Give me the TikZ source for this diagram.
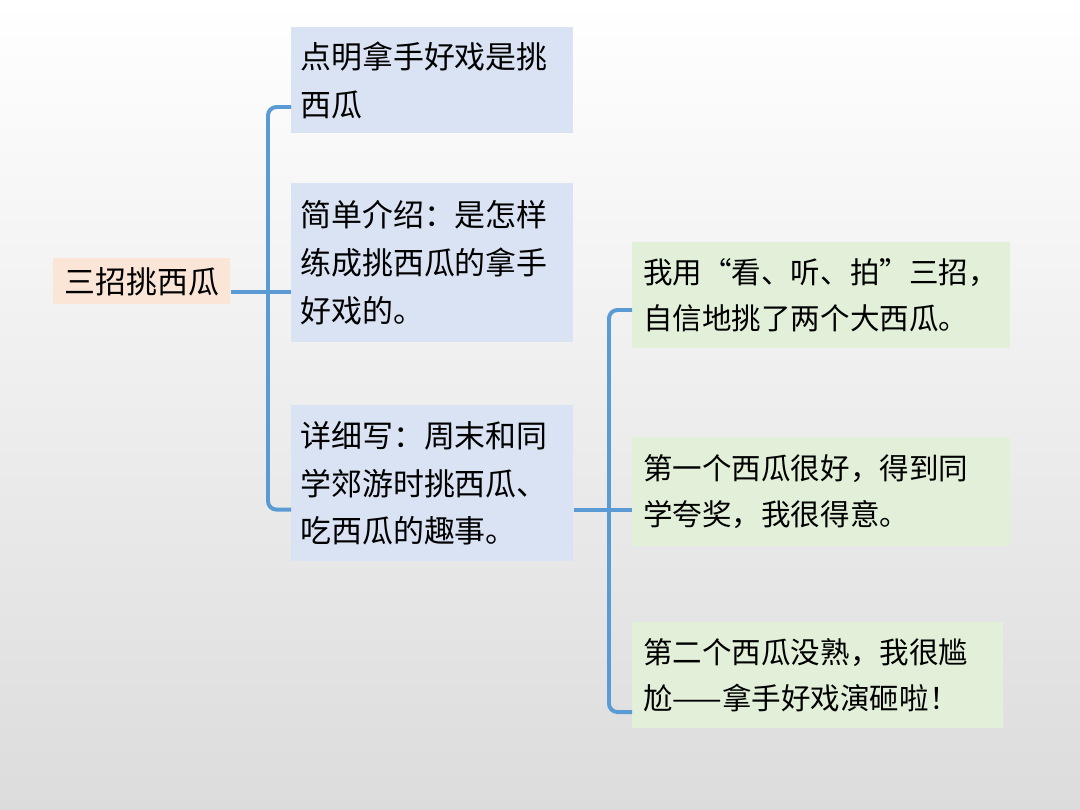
\documentclass[tikz,border=0pt]{standalone}
\usepackage{fontspec}
\newfontfamily\cjk{Noto Sans CJK SC}
\definecolor{rootfill}{HTML}{FBE5D6}
\definecolor{stepfill}{HTML}{DAE3F3}
\definecolor{eventfill}{HTML}{E2F0D9}
\definecolor{linkblue}{HTML}{5B9BD5}
\definecolor{bggray}{HTML}{DCDCDC}
\tikzset{
  leftbox/.style={
    fill=stepfill,
    anchor=north west,
    minimum width=7.05cm,
    inner xsep=0.225cm,
    text width=6.6cm,
    align=left,
    font=\cjk\fontsize{22pt}{34pt}\selectfont
  },
  rightbox/.style={
    fill=eventfill,
    anchor=north west,
    minimum width=9.45cm,
    inner xsep=0.275cm,
    text width=8.9cm,
    align=left,
    font=\cjk\fontsize{21pt}{33pt}\selectfont
  },
  branch/.style={draw=linkblue, line width=2.8pt, rounded corners=6pt}
}
\begin{document}
\begin{tikzpicture}[x=0.025cm, y=-0.025cm]
      % Gray fading background
      \shade[top color=white, bottom color=bggray] (0,0) rectangle (1080,810);

      % Title box
      \node[
        fill=rootfill,
        anchor=north west,
        minimum width=4.425cm,
        minimum height=1.15cm,
        inner sep=0pt,
        font=\cjk\fontsize{22pt}{26pt}\selectfont
      ] (title) at (53,258) {三招挑西瓜};

      % Three parts of the essay
      \node[leftbox, minimum height=2.65cm] (point) at (291,27)
        {点明拿手好戏是挑\\西瓜};
      \node[leftbox, minimum height=3.975cm] (intro) at (291,183)
        {简单介绍：是怎样\\练成挑西瓜的拿手\\好戏的。};
      \node[leftbox, minimum height=3.9cm] (detail) at (291,405)
        {详细写：周末和同\\学郊游时挑西瓜、\\吃西瓜的趣事。};

      % Three happenings of the detail part
      \node[rightbox, minimum height=2.65cm] (pick) at (632,242)
        {我用“看、听、拍”三招，\\自信地挑了两个大西瓜。};
      \node[rightbox, minimum height=2.725cm] (good) at (632,437)
        {第一个西瓜很好，得到同\\学夸奖，我很得意。};
      \node[rightbox, minimum width=9.275cm, text width=8.725cm, minimum height=2.65cm] (raw) at (632,622)
        {第二个西瓜没熟，我很尴\\尬——拿手好戏演砸啦！};

      % Left bracket
      \draw[branch] ([yshift=-0.27cm]title.east) -- ([yshift=-0.27cm]title.east -| intro.west);
      \draw[branch] ([yshift=-2cm]point.north west) -- ++(-23,0) |- ([yshift=1.3cm]detail.south west);

      % Right bracket
      \draw[branch] ([yshift=1.3cm]detail.south east) -- ([yshift=1.3cm]detail.south east -| good.west);
      \draw[branch] ([yshift=-1.7cm]pick.north west) -- ++(-23,0) |- ([yshift=-2.25cm]raw.north west);

    \end{tikzpicture}
\end{document}
